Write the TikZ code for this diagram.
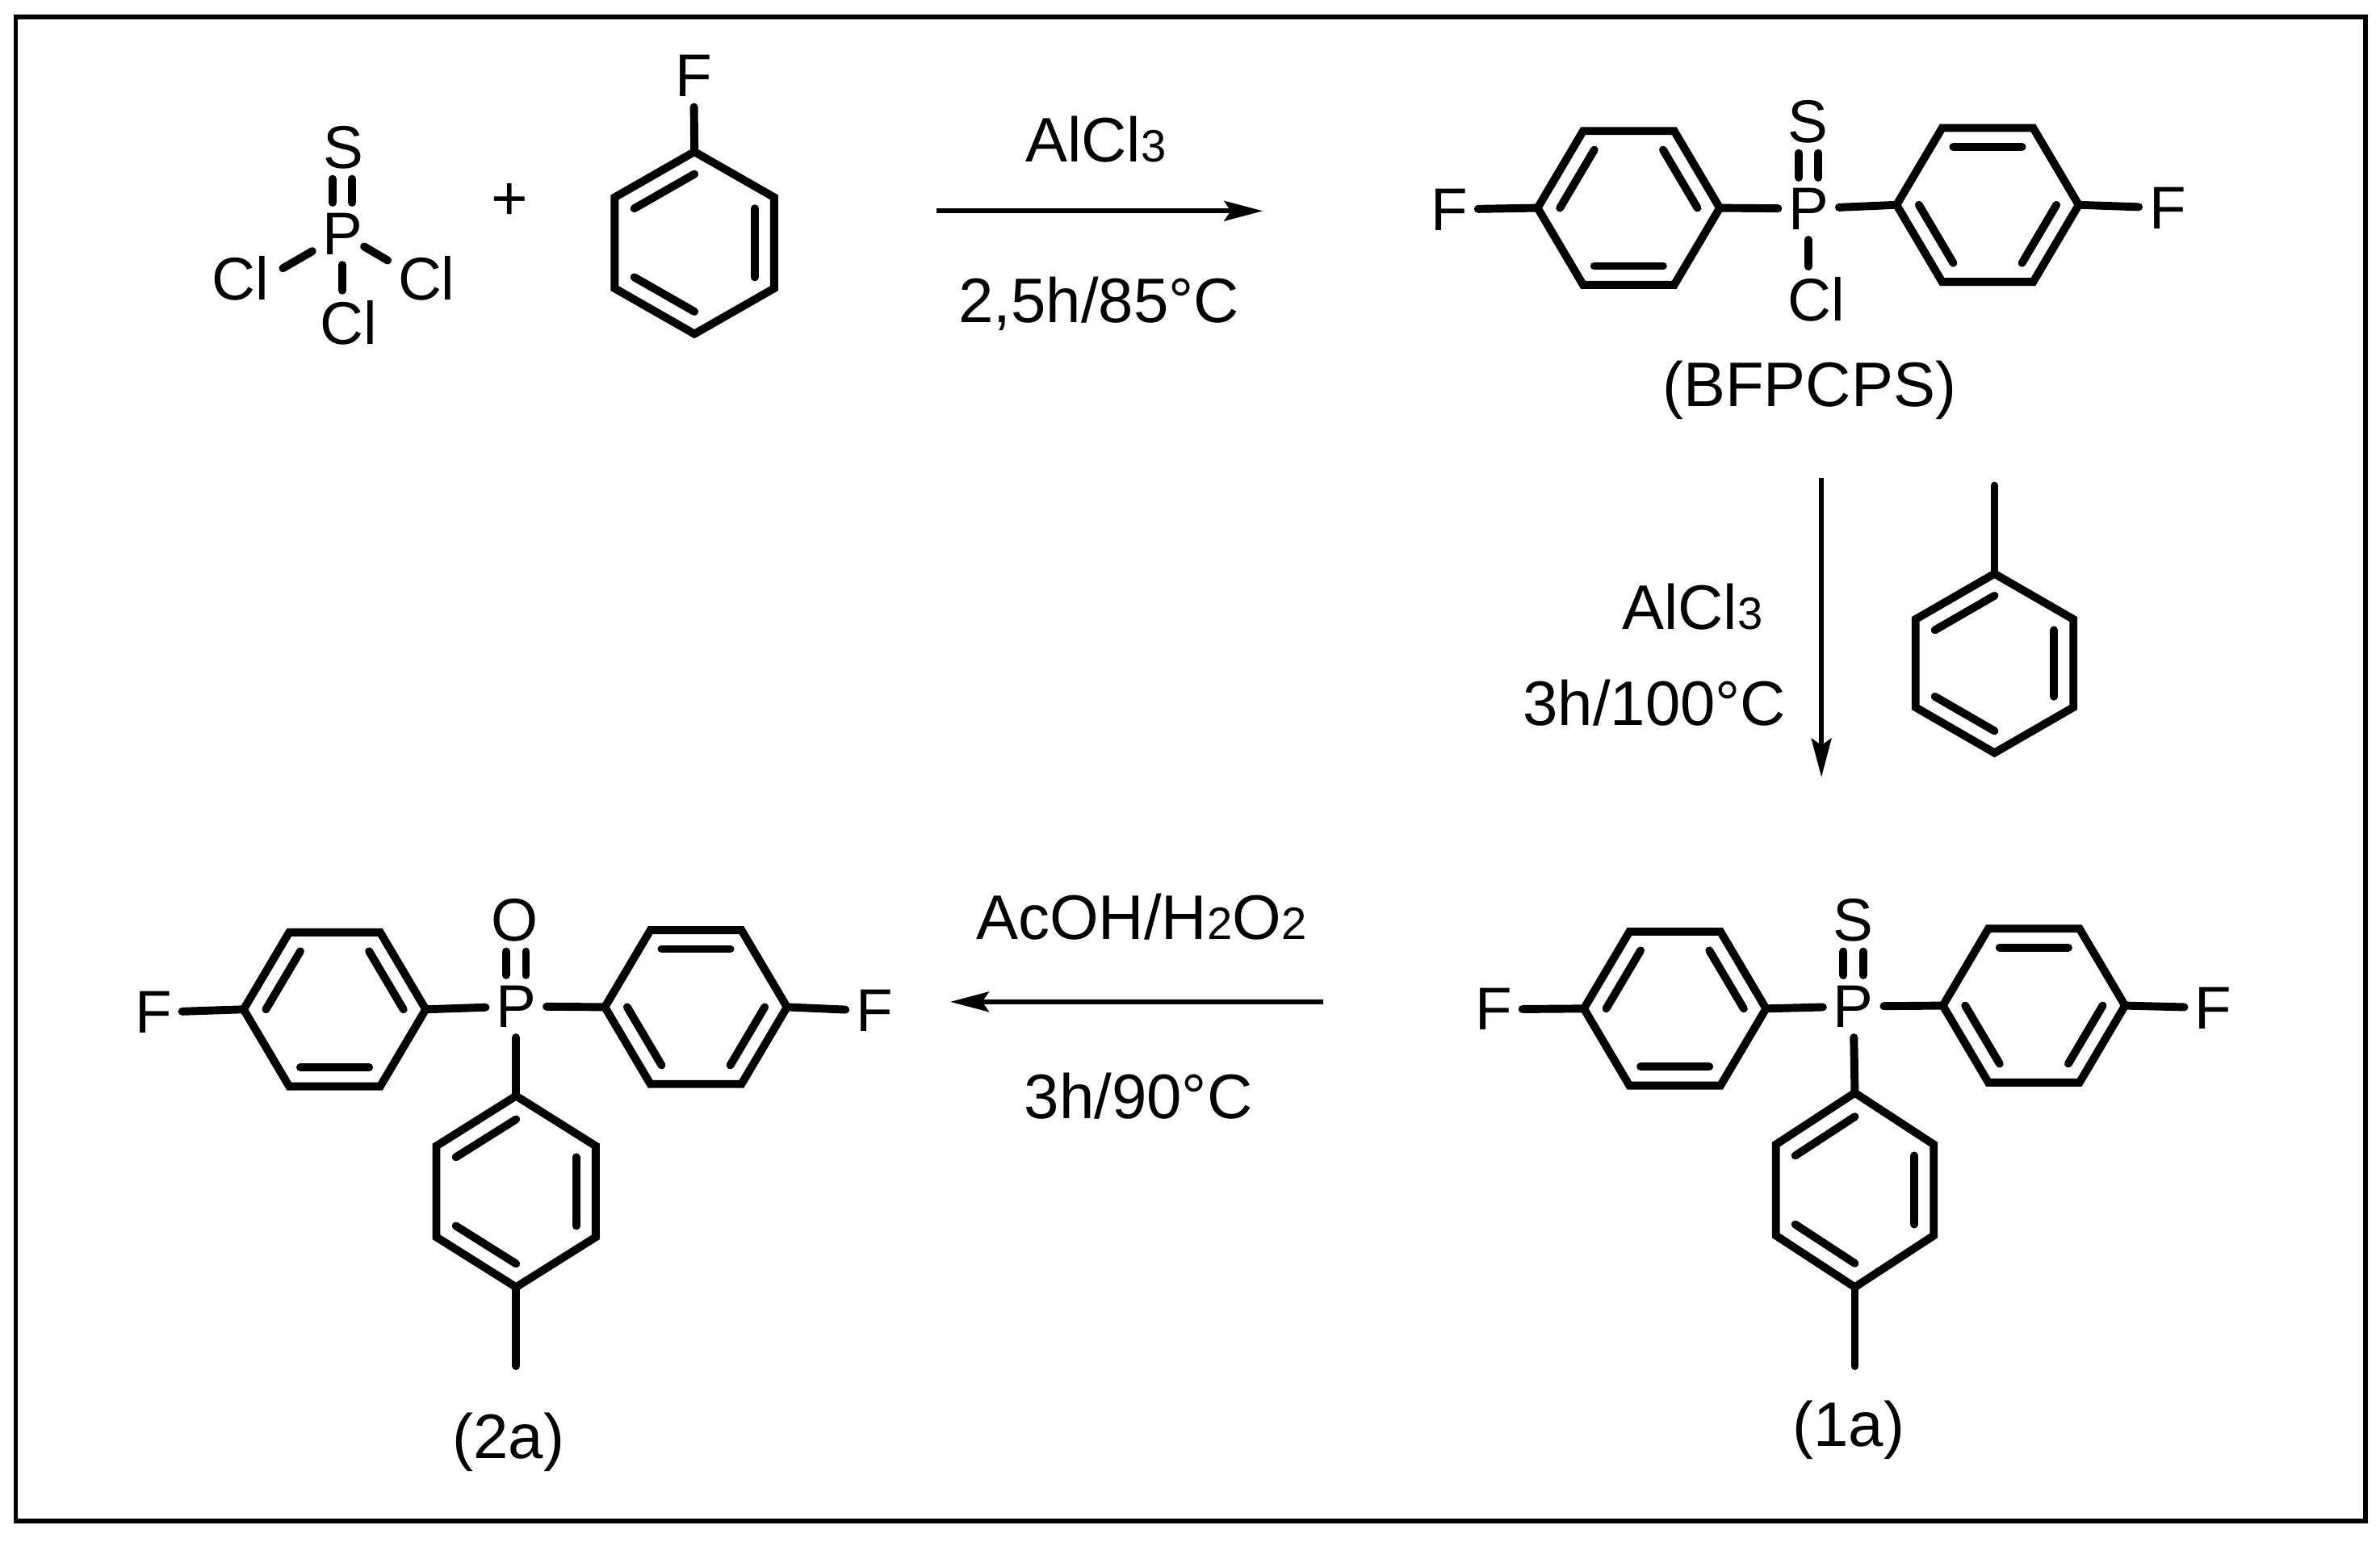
\documentclass[tikz,border=0pt]{standalone}
\usepackage{fontspec}
\setmainfont{Liberation Sans}
\usepackage{tikz}
\usetikzlibrary{positioning}
\usetikzlibrary{arrows.meta}
\usetikzlibrary{calc}
\tikzstyle{atom}=[font=\fontsize{22.6}{23}\selectfont,inner sep=3.7pt]
\tikzstyle{label}=[font=\fontsize{23.6}{24}\selectfont,inner sep=0pt]
\tikzstyle{bond}=[draw,line width=3pt,line cap=round,line join=miter]
\tikzstyle{reaction}=[draw,line width=1.75pt,-{Stealth[length=14.5pt,width=7.5pt,inset=2.5pt]}]
\newcommand{\lowidx}[1]{{\fontsize{17}{17}\selectfont #1}}

\begin{document}
\begin{tikzpicture}[x=0.02cm,y=-0.02cm]

  \useasboundingbox (0,0) rectangle (1568,1015.4);
  \node[draw,line width=1.75pt,outer sep=0pt,minimum width=1548*0.02cm,minimum height=991*0.02cm,inner sep=0pt,anchor=north west] (frame) at (10.4,11) {};

  % atoms
  \foreach \x/\y/\name/\txt in {225.5/154/Pa/P, 226/97/Sa/S, 158.5/183.5/Cla/Cl, 281/183.5/Clb/Cl, 229.5/212.8/Clc/Cl, 457/50/Fa/F,
                                1191.5/137.5/Pb/P, 1191/80/Sb/S, 1196.5/197/Cld/Cl, 954.8/138/Fb/F, 1428/137/Fc/F,
                                1221/663/Pc/P, 1221/606/Sc/S, 984/665/Fd/F, 1458/664/Fe/F,
                                340/663/Pd/P, 339/606/Oa/O, 101/667/Ff/F, 576/666/Fg/F}
          \node[atom] (\name) at (\x,\y) {\txt};

  % flat rings: left, top left, top right, right, bottom right, bottom left
  \foreach \name/\x/\y in {rA/1073/137, rB/1309.5/135, rC/1103.5/664.5, rD/1340/662.5, rE/220.5/665, rF/458.5/663.5}{
     \coordinate (\name0) at (\x,\y);
     \coordinate (\name1) at (\x-60,\y);
     \coordinate (\name2) at (\x-30,\y-50.7);
     \coordinate (\name3) at (\x+30,\y-50.7);
     \coordinate (\name4) at (\x+60,\y);
     \coordinate (\name5) at (\x+30,\y+50.7);
     \coordinate (\name6) at (\x-30,\y+50.7);
  }

  % pointed rings: top, upper right, lower right, bottom, lower left, upper left
  \foreach \name/\x/\y/\hw/\hh/\sh in {rG/457.5/160/52.5/60/30, rH/1314/437/52/59/29, rI/1222/784/52/64/30, rJ/340/785/52.5/63/30}{
     \coordinate (\name0) at (\x,\y);
     \coordinate (\name1) at (\x,\y-\hh);
     \coordinate (\name2) at (\x+\hw,\y-\sh);
     \coordinate (\name3) at (\x+\hw,\y+\sh);
     \coordinate (\name4) at (\x,\y+\hh);
     \coordinate (\name5) at (\x-\hw,\y+\sh);
     \coordinate (\name6) at (\x-\hw,\y-\sh);
  }

  \foreach \name in {rA,rB,rC,rD,rE,rF,rG,rH,rI,rJ}
         \path[bond] (\name1) -- (\name2) -- (\name3) -- (\name4) -- (\name5) -- (\name6) -- cycle;

  % inner lines of the rings
  \foreach \name/\a/\b in {rA/1/2, rA/3/4, rA/5/6, rC/1/2, rC/3/4, rC/5/6, rE/1/2, rE/3/4, rE/5/6,
                           rB/2/3, rB/4/5, rB/6/1, rD/2/3, rD/4/5, rD/6/1, rF/2/3, rF/4/5, rF/6/1,
                           rG/6/1, rG/2/3, rG/4/5, rH/6/1, rH/2/3, rH/4/5, rI/6/1, rI/2/3, rI/4/5, rJ/6/1, rJ/2/3, rJ/4/5}
         \path[bond] ($(\name\a)!0.245!(\name0)$) -- ($(\name\b)!0.245!(\name0)$);

  % single bonds
  \coordinate (meH) at (1314,320);
  \coordinate (meI) at (1222,900);
  \coordinate (meJ) at (340,900);
  \foreach \source/\dest in {Fa/rG1, Fb/rA1, rA4/Pb, Pb/rB1, rB4/Fc, meH/rH1,
                             Fd/rC1, rC4/Pc, Pc/rD1, rD4/Fe, Pc/rI1, rI4/meI,
                             Ff/rE1, rE4/Pd, Pd/rF1, rF4/Fg, Pd/rJ1, rJ4/meJ}
         \path[bond] (\source) -- (\dest);
  \foreach \source/\dest in {Pa/Clc, Pb/Cld}
         \path[bond] (\source.south) -- (\source.south |- \dest.north);
  \path[bond,shorten <=13pt,shorten >=1.5pt] (Pa.center) -- (Cla.12);
  \path[bond,shorten <=9.5pt] (Pa.center) -- (Clb.155);

  % double bonds to the phosphorus
  \foreach \source/\dest in {Pa/Sa, Pb/Sb, Pc/Sc, Pd/Oa}{
         \path[bond] ([xshift=-3.7pt]\source.north) -- ([xshift=-3.7pt]\source.north |- \dest.south);
         \path[bond] ([xshift=3.7pt]\source.north) -- ([xshift=3.7pt]\source.north |- \dest.south);
  }

  % texts
  \node[label] (plus) at (336,133) {+};
  \node[label] (catA) at (722,92) {AlCl\lowidx{3}};
  \node[label] (condA) at (724,200) {2,5h/85°C};
  \node[label] (bfpcps) at (1192,257) {(BFPCPS)};
  \node[label] (catB) at (1115,400) {AlCl\lowidx{3}};
  \node[label] (condB) at (1090,463) {3h/100°C};
  \node[label] (catC) at (752,604) {AcOH/H\lowidx{2}O\lowidx{2}};
  \node[label] (condC) at (750,722) {3h/90°C};
  \node[label] (oneA) at (1218,942) {(1a)};
  \node[label] (twoA) at (335,950) {(2a)};

  % arrows
  \coordinate (aS) at (617,139);
  \coordinate (aE) at (832,139);
  \coordinate (bS) at (1200,315);
  \coordinate (bE) at (1200,512);
  \coordinate (cS) at (872,660);
  \coordinate (cE) at (626,660);
  \foreach \source/\dest in {aS/aE, bS/bE, cS/cE}
         \path[reaction] (\source) -- (\dest);

\end{tikzpicture}
\end{document}
